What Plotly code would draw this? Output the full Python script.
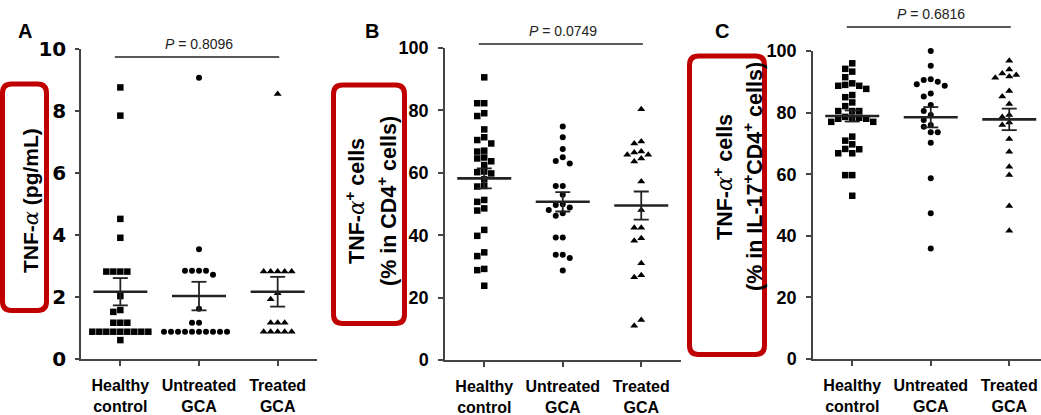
import plotly.graph_objects as go

# ---------------- data ----------------
categories = ["Healthy<br>control", "Untreated<br>GCA", "Treated<br>GCA"]
p_values = ["0.8096", "0.0749", "0.6816"]
panel_letters = ["A", "B", "C"]

a_healthy = [8.76, 7.85, 4.52, 3.91, 2.82, 2.82, 2.82, 2.82, 2.03, 1.58, 1.52, 1.17, 1.17, 1.17,
             0.88, 0.88, 0.88, 0.88, 0.88, 0.88, 0.88, 0.88, 0.88, 0.61]
a_untreated = [9.07, 3.54, 2.85, 2.85, 2.85, 2.85, 2.72, 1.62, 1.17, 1.17,
               0.88, 0.88, 0.88, 0.88, 0.88, 0.88, 0.88, 0.88, 0.88, 0.88]
a_treated = [8.55, 2.82, 2.82, 2.82, 2.82, 2.82, 2.12, 1.93, 1.17, 1.17, 1.17,
             0.88, 0.88, 0.88, 0.88, 0.88]
a_means = [2.17, 2.03, 2.17]
a_sems = [0.44, 0.46, 0.48]

b_healthy = [90.6, 82.3, 82.3, 79.1, 78.2, 73.9, 71.4, 70.5, 69.4, 67.1, 66.8, 64.9, 64.6, 63.7,
             62.5, 60.4, 60.2, 59.8, 57.9, 55.8, 55.6, 51.3, 50.7, 48.6, 47.9, 41.7, 39.8, 34.5,
             33.3, 29.2, 28.8, 23.8]
b_untreated = [74.8, 71.4, 67.6, 65.0, 63.8, 63.0, 55.8, 55.8, 53.0, 49.9, 49.7, 48.9, 48.1, 47.0,
               46.2, 39.3, 39.3, 33.7, 33.7, 32.7, 28.7]
b_treated = [80.4, 70.0, 69.4, 66.8, 66.5, 65.8, 65.8, 64.6, 63.6, 57.2, 48.1, 42.4, 42.4, 39.0,
             38.2, 31.0, 27.2, 26.5, 12.8, 11.0]
b_means = [58.2, 50.7, 49.5]
b_sems = [3.2, 3.1, 4.5]

c_healthy = [96.0, 94.2, 93.3, 91.5, 89.5, 89.0, 88.7, 88.7, 87.7, 85.7, 85.0, 83.3, 82.1, 80.5,
             80.5, 80.5, 78.6, 78.3, 78.3, 78.0, 78.0, 77.0, 77.0, 72.2, 70.9, 69.7, 68.2, 68.1,
             66.8, 66.8, 59.7, 59.7, 53.0]
c_untreated = [100.0, 95.2, 90.8, 90.6, 90.0, 89.2, 88.7, 86.2, 85.2, 82.5, 80.5, 79.2, 77.6, 76.0,
               75.4, 73.6, 73.6, 70.2, 58.7, 47.3, 35.9]
c_treated = [96.8, 94.0, 92.7, 92.2, 91.7, 91.3, 87.0, 85.2, 82.8, 79.2, 78.6, 76.8, 76.0, 71.4,
             67.3, 62.4, 59.7, 49.7, 41.6]
c_means = [78.9, 78.5, 77.8]
c_sems = [1.8, 3.3, 3.5]

ALPHA = "<span style='font-family:DejaVu Serif;font-weight:normal;font-style:italic'>α</span>"
y_titles = [
    ["TNF-" + ALPHA + " (pg/mL)"],
    ["TNF-" + ALPHA + "<sup>+</sup> cells", "(% in CD4<sup>+</sup> cells)"],
    ["TNF-" + ALPHA + "<sup>+</sup> cells", "(% in IL-17<sup>+</sup>CD4<sup>+</sup> cells)"],
]

# ---------------- layout geometry (pixels) ----------------
W, H = 1041, 415
FONT = "Liberation Sans, Arial, sans-serif"
WIDEFONT = "DejaVu Sans, Liberation Sans, sans-serif"


def px(x):
    return x / W


def py(y):
    return 1 - y / H


panels = [
    dict(groups=[a_healthy, a_untreated, a_treated], means=a_means, sems=a_sems,
         x0=81, x1=317, ytop=49, ybot=359, ymax=10, dtick=2, xmax=3.5,
         bracket_y=57, title_x=[31], title_size=21, title_y=201,
         letter=(25, 31), rect=(2.5, 84, 46.5, 310.5), standoff=5, ticklen=4,
         tickfamily=WIDEFONT, ticksize=20),
    dict(groups=[b_healthy, b_untreated, b_treated], means=b_means, sems=b_sems,
         x0=445, x1=680.5, ytop=48, ybot=360, ymax=100, dtick=20, xmax=3.5,
         bracket_y=44, title_x=[355, 387], title_size=21.5, title_y=201,
         letter=(372, 31), rect=(333.5, 85, 404.5, 323.5), standoff=6, ticklen=5,
         tickfamily=FONT, ticksize=18),
    dict(groups=[c_healthy, c_untreated, c_treated], means=c_means, sems=c_sems,
         x0=813, x1=1041, ytop=51, ybot=359, ymax=100, dtick=20, xmax=0.5 + 228 / 78.5,
         bracket_y=27, title_x=[723, 753], title_size=21.5, title_y=177,
         letter=(722, 31), rect=(689.5, 56, 764.5, 354.5), standoff=6, ticklen=5,
         tickfamily=FONT, ticksize=18),
]

symbols = ["square", "circle", "triangle-up"]
sizes = [6.5, 6, 7]


def swarm(values, ppu_y, ppu_x, step_px=7.0, size_px=6.5):
    order = sorted(range(len(values)), key=lambda i: -values[i])
    placed = []
    offs = [0.0] * len(values)
    cands = [0, -1, 1, -2, 2, -3, 3, -4, 4, -5, 5, -6, 6]
    for i in order:
        yp = values[i] * ppu_y
        col = 0
        for c in cands:
            if all(not (pc == c and abs(pyy - yp) < size_px) for pc, pyy in placed):
                col = c
                break
        placed.append((col, yp))
        offs[i] = col * step_px / ppu_x
    return offs


def rounded_rect(x0, y0, x1, y1, r):
    pts = lambda x, y: f"{px(x):.5f},{py(y):.5f}"
    return (f"M {pts(x0 + r, y0)} L {pts(x1 - r, y0)} Q {pts(x1, y0)} {pts(x1, y0 + r)} "
            f"L {pts(x1, y1 - r)} Q {pts(x1, y1)} {pts(x1 - r, y1)} "
            f"L {pts(x0 + r, y1)} Q {pts(x0, y1)} {pts(x0, y1 - r)} "
            f"L {pts(x0, y0 + r)} Q {pts(x0, y0)} {pts(x0 + r, y0)} Z")


fig = go.Figure()
shapes = []
annotations = []
layout_axes = {}

for k, p in enumerate(panels):
    sfx = "" if k == 0 else str(k + 1)
    xa, ya = "x" + sfx, "y" + sfx
    ppu_x = (p["x1"] - p["x0"]) / (p["xmax"] - 0.5)
    ppu_y = (p["ybot"] - p["ytop"]) / p["ymax"]

    # points
    for g, vals in enumerate(p["groups"]):
        offs = swarm(vals, ppu_y, ppu_x, size_px=6.5)
        fig.add_trace(go.Scatter(
            x=[g + 1 + o for o in offs], y=vals, mode="markers", xaxis=xa, yaxis=ya,
            marker=dict(symbol=symbols[g], size=sizes[g], color="black", line=dict(width=0)),
            cliponaxis=False, showlegend=False, hoverinfo="y"))

    # mean and SEM
    hw = 27 / ppu_x
    cw = 7.5 / ppu_x
    for g, (m, s) in enumerate(zip(p["means"], p["sems"])):
        c = g + 1
        fig.add_trace(go.Scatter(
            x=[c, c, None, c - cw, c + cw, None, c - cw, c + cw],
            y=[m - s, m + s, None, m + s, m + s, None, m - s, m - s],
            mode="lines", xaxis=xa, yaxis=ya, line=dict(color="#222", width=1.8),
            showlegend=False, hoverinfo="skip"))
        fig.add_trace(go.Scatter(
            x=[c - hw, c + hw], y=[m, m], mode="lines", xaxis=xa, yaxis=ya,
            line=dict(color="#222", width=2.6), showlegend=False, hoverinfo="skip"))

    dom_x = [px(p["x0"]), px(p["x1"])]
    dom_y = [py(p["ybot"]), py(p["ytop"])]
    layout_axes["xaxis" + sfx] = dict(
        domain=dom_x, range=[0.5, p["xmax"]], anchor=ya, tickmode="array", automargin=False,
        tickvals=[1, 2, 3], ticktext=categories, showline=True, linecolor="#444", linewidth=1.5,
        ticks="outside", ticklen=5, tickwidth=1.5, tickcolor="#444", showgrid=False,
        zeroline=False, ticklabelstandoff=6,
        tickfont=dict(family=FONT, size=16, color="black", weight="bold"))
    layout_axes["yaxis" + sfx] = dict(
        domain=dom_y, range=[0, p["ymax"]], anchor=xa, dtick=p["dtick"], tick0=0,
        automargin=False,
        showline=True, linecolor="#444", linewidth=1.5, ticks="outside", ticklen=p["ticklen"],
        tickwidth=1.5, tickcolor="#444", showgrid=False, zeroline=False,
        ticklabelstandoff=p["standoff"],
        tickfont=dict(family=p["tickfamily"], size=p["ticksize"], color="black", weight="bold"))

    # significance bracket
    shapes.append(dict(type="line", xref=xa, yref="paper", x0=0.93, x1=3.02,
                       y0=py(p["bracket_y"]), y1=py(p["bracket_y"]),
                       line=dict(color="#222", width=1.3)))
    annotations.append(dict(xref=xa, yref="paper", x=2.0, y=py(p["bracket_y"] - 3),
                            xanchor="center", yanchor="bottom", showarrow=False,
                            text=f"<i>P</i> = {p_values[k]}",
                            font=dict(family=FONT, size=14, color="#222")))

    # panel letter
    annotations.append(dict(xref="paper", yref="paper", x=px(p["letter"][0]), y=py(p["letter"][1]),
                            xanchor="center", yanchor="middle", showarrow=False,
                            text=panel_letters[k],
                            font=dict(family=FONT, size=20, color="black", weight="bold")))

    # y titles
    for line_text, tx in zip(y_titles[k], p["title_x"]):
        annotations.append(dict(xref="paper", yref="paper", x=px(tx), y=py(p["title_y"]),
                                xanchor="center", yanchor="middle", showarrow=False,
                                textangle=-90, text=line_text,
                                font=dict(family=FONT, size=p["title_size"], color="black",
                                          weight="bold")))

    # red highlight box
    x0, y0, x1, y1 = p["rect"]
    shapes.append(dict(type="path", xref="paper", yref="paper", layer="above",
                       path=rounded_rect(x0, y0, x1, y1, 9),
                       line=dict(color="#C00000", width=5)))

fig.update_layout(
    template="none",
    width=W, height=H, margin=dict(l=0, r=0, t=0, b=0, autoexpand=False),
    paper_bgcolor="white", plot_bgcolor="white",
    shapes=shapes, annotations=annotations, showlegend=False,
    **layout_axes)

fig.write_html("out.html")
